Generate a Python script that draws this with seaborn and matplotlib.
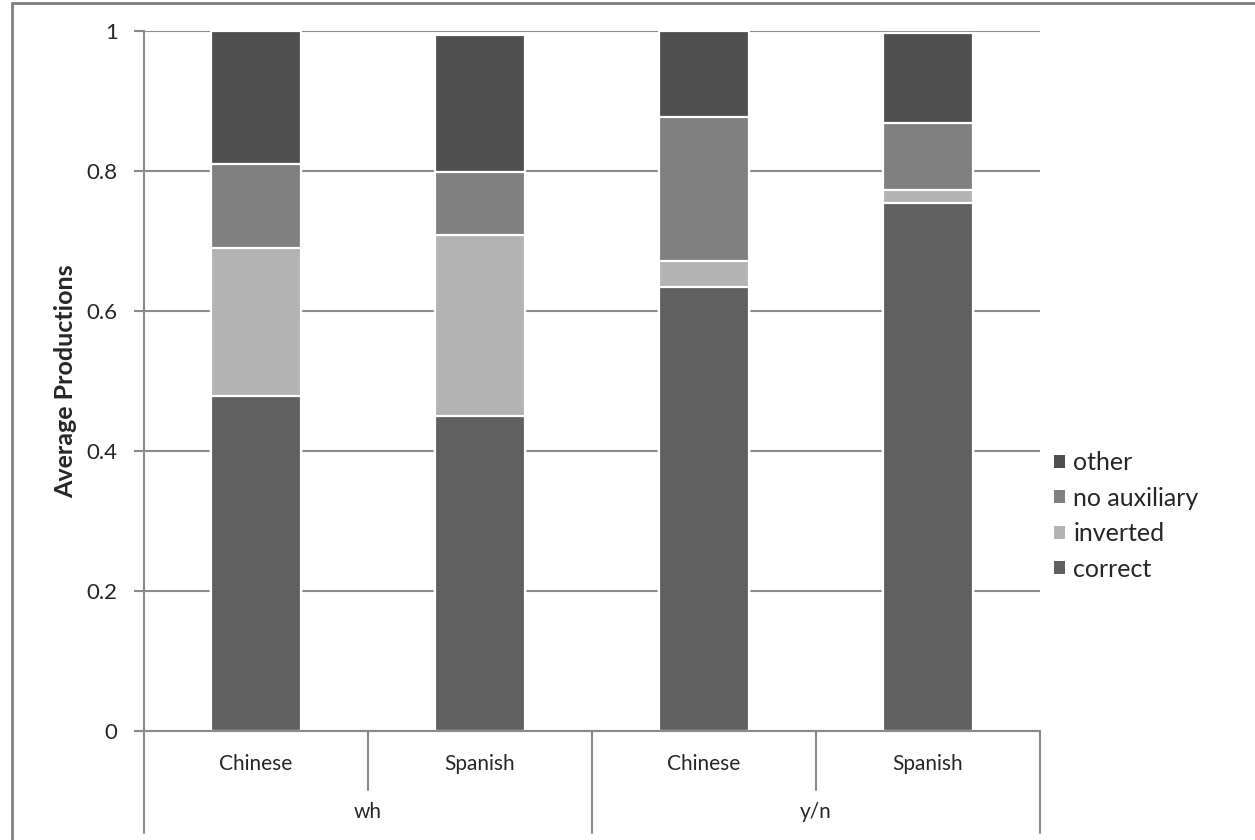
import numpy as np
import pandas as pd
import seaborn as sns
import matplotlib.pyplot as plt
from matplotlib.lines import Line2D
from matplotlib.patches import Patch

# data
groups = ["wh", "wh", "y/n", "y/n"]
languages = ["Chinese", "Spanish", "Chinese", "Spanish"]
correct = [0.479, 0.450, 0.635, 0.755]
inverted = [0.211, 0.258, 0.036, 0.018]
no_auxiliary = [0.120, 0.090, 0.206, 0.096]
other = [0.190, 0.197, 0.123, 0.128]

series = ["correct", "inverted", "no auxiliary", "other"]
colors = {"correct": "#606060", "inverted": "#b3b3b3",
          "no auxiliary": "#808080", "other": "#4f4f4f"}

bars = [g + " " + l for g, l in zip(groups, languages)]
df = pd.DataFrame({"bar": bars, "correct": correct, "inverted": inverted,
                   "no auxiliary": no_auxiliary, "other": other})
cum = df[series].cumsum(axis=1)
cum["bar"] = df["bar"]

sns.set_style("white")
plt.rcParams["font.family"] = ["Lato", "DejaVu Sans"]
FS = 15

fig = plt.figure(figsize=(12.55, 8.4), dpi=100)
W, H = 1255, 840
x0, x1, y0, y1 = 144, 1040, 731, 31
ax = fig.add_axes([x0 / W, (H - y0) / H, (x1 - x0) / W, (y0 - y1) / H])

# stacked bars: draw cumulative totals from top layer down
for s in reversed(series):
    sns.barplot(data=cum, x="bar", y=s, order=bars, color=colors[s],
                width=0.4, edgecolor="white", linewidth=1.6,
                saturation=1, ax=ax, zorder=3)

ax.set_ylim(0, 1)
ax.set_xlim(-0.5, len(bars) - 0.5)
ax.set_yticks(np.arange(0, 1.01, 0.2))
ax.set_yticklabels(["0", "0.2", "0.4", "0.6", "0.8", "1"], fontsize=16)
ax.yaxis.grid(True, color="#8a8a8a", linewidth=1.5, zorder=0)
ax.set_axisbelow(True)
for sp in ["top", "right", "bottom"]:
    ax.spines[sp].set_visible(False)
ax.spines["left"].set_color("#8a8a8a")
ax.spines["left"].set_linewidth(1.5)
ax.tick_params(axis="y", left=True, length=7, width=1.5, color="#8a8a8a", pad=12)
ax.set_xticks([])
ax.set_xlabel("")
ax.set_ylabel("")


def px(x, y):
    return x / W, (H - y) / H


fig.text(*px(66, 381), "Average Productions", rotation=90, ha="center",
         va="center", fontsize=18, fontweight="bold")

# category axis drawn below the plot
grey = "#8a8a8a"
fig.add_artist(Line2D(*zip(px(136, y0), px(x1, y0)), color=grey, lw=1.5))
step = (x1 - x0) / len(bars)
for i in range(len(bars) + 1):
    xs = x0 + i * step
    yend = 833 if i % 2 == 0 else 790
    fig.add_artist(Line2D(*zip(px(xs, y0), px(xs, yend)), color=grey, lw=1.5))
for i, lang in enumerate(languages):
    fig.text(*px(x0 + (i + 0.5) * step, 764), lang, ha="center", va="center", fontsize=FS)
for j, g in enumerate(["wh", "y/n"]):
    fig.text(*px(x0 + (2 * j + 1) * step, 812), g, ha="center", va="center", fontsize=FS)

# outer frame (left and top only)
fig.add_artist(Line2D(*zip(px(12, 3), px(12, H)), color="#7f7f7f", lw=2))
fig.add_artist(Line2D(*zip(px(12, 3), px(W, 3)), color="#7f7f7f", lw=2))

handles = [Patch(facecolor=colors[s], edgecolor="none", label=s) for s in reversed(series)]
fig.legend(handles=handles, loc="center left", bbox_to_anchor=(1054 / W, (H - 516) / H),
           frameon=False, fontsize=18, handlelength=0.42, handleheight=0.42,
           handletextpad=0.35, labelspacing=0.5, borderpad=0, borderaxespad=0)

fig.savefig("out.png", dpi=100)
